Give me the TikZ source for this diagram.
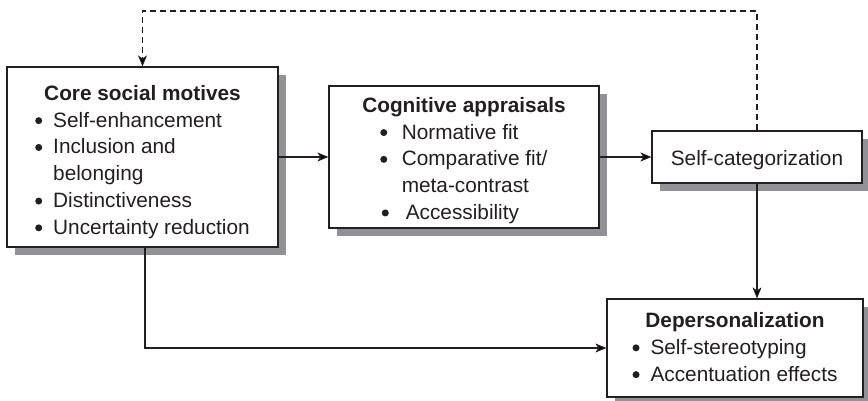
\documentclass[tikz,border=0pt]{standalone}
\usepackage{fontspec}
\setmainfont{Liberation Sans}
\usetikzlibrary{arrows.meta,shadows}
\definecolor{ink}{HTML}{231F20}
\definecolor{shade}{RGB}{146,146,150}
\newcommand{\bodyfont}{\fontsize{20.8}{26.8}\selectfont}
% round list marker, 7pt across, centred 6.5pt above the baseline
\newcommand{\dotmark}{\tikz[baseline={(0,-6.5pt)}]\fill[ink] (0,0) circle (3.5pt);}
% lower the contents without changing the box size used for centring
\newcommand{\lowerby}[2]{\raisebox{-#1}[\height][\depth]{#2}}
\tikzset{
  box/.style={draw=ink, line width=1.2pt, fill=white, inner sep=0pt,
    text=ink, font=\bodyfont,
    drop shadow={shadow xshift=8pt, shadow yshift=-8pt, fill=shade, opacity=1}},
  link/.style={draw=ink, line width=1.1pt,
    -{Stealth[length=11pt,width=9pt,inset=3pt]}},
  feedback/.style={link, dash pattern=on 6pt off 4pt}
}
\begin{document}
\begin{tikzpicture}
\useasboundingbox (0,0) rectangle (868pt,-401pt);

% Core social motives
\node[box, minimum width=271pt, minimum height=180pt] (motives) at (142.5pt,-157pt)
  {\lowerby{5pt}{\begin{tabular}{@{}l@{\hspace{11pt}}l@{}}
    \multicolumn{2}{c}{\textbf{Core social motives}}\\
    \dotmark & Self-enhancement\\
    \dotmark & Inclusion and\\
             & belonging\\
    \dotmark & Distinctiveness\\
    \dotmark & Uncertainty reduction
  \end{tabular}}};

% Cognitive appraisals
\node[box, minimum width=270pt, minimum height=142pt] (appraisals) at (464pt,-157pt)
  {\lowerby{3.5pt}{\begin{tabular}{@{\hspace{18pt}}l@{\hspace{13pt}}l@{}}
    \multicolumn{2}{@{}c@{}}{\textbf{Cognitive appraisals}}\\
    \dotmark & Normative fit\\
    \dotmark & Comparative fit/\\
             & meta-contrast\\
    \hspace{1.5pt}\dotmark & \hspace{4pt}Accessibility
  \end{tabular}}};

% Self-categorization
\node[box, minimum width=210pt, minimum height=52pt] (selfcat) at (757pt,-157pt)
  {\lowerby{3pt}{Self-categorization}};

% Depersonalization
\node[box, minimum width=256pt, minimum height=98pt] (depers) at (735pt,-348pt)
  {\lowerby{1pt}{\begin{tabular}{@{}l@{\hspace{11pt}}l@{}}
    \multicolumn{2}{c}{\textbf{Depersonalization}}\\
    \dotmark & Self-stereotyping\\
    \dotmark & Accentuation effects
  \end{tabular}}};

% Connectors
\coordinate (topline) at (0,-11pt);
\draw[link] (motives.east) -- (appraisals.west);
\draw[link] (appraisals.east) -- (selfcat.west);
\draw[link] (selfcat.south) -- (selfcat.south |- depers.north);
\draw[link] ([xshift=2.5pt]motives.south) |- (depers.west);
\draw[feedback] (selfcat.north) -- (selfcat.north |- topline)
  -- (motives.north |- topline) -- (motives.north);
\end{tikzpicture}
\end{document}
